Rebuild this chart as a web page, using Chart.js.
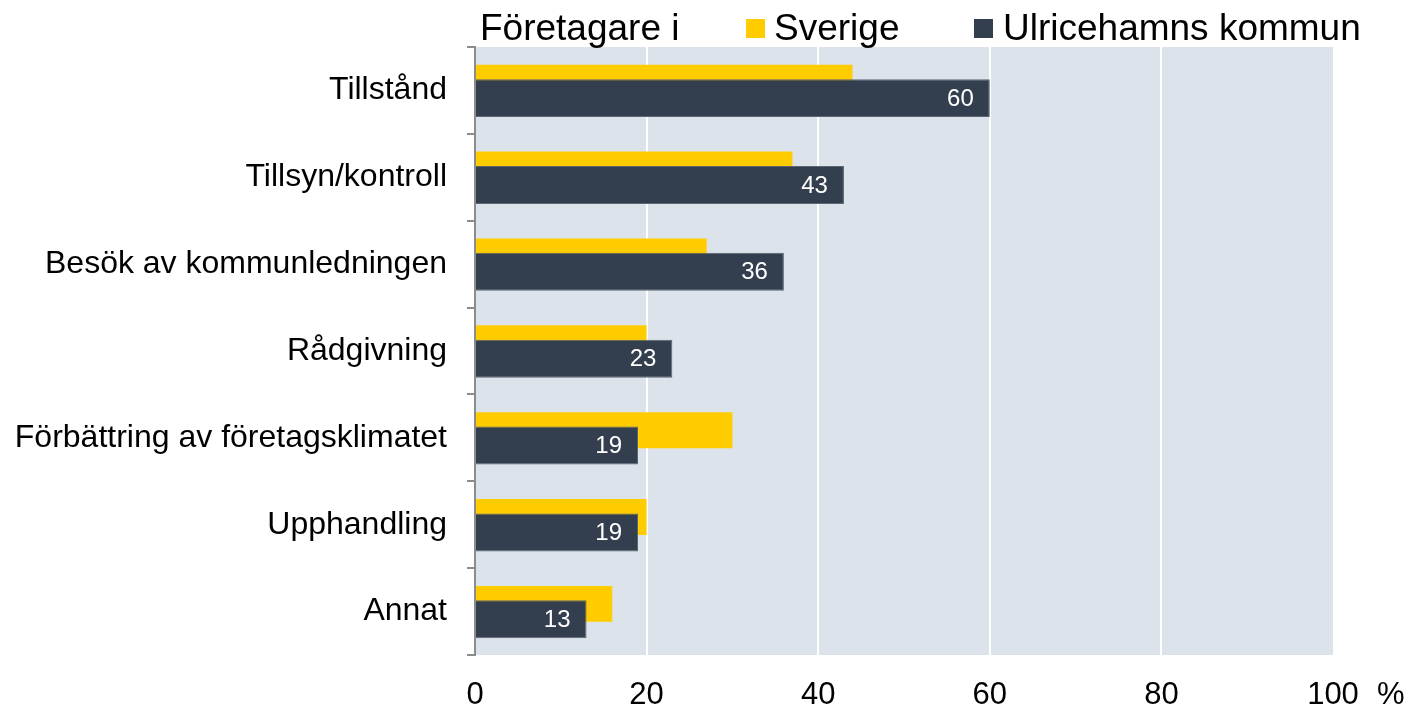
<!DOCTYPE html>
<html>
<head>
<meta charset="utf-8">
<script src="https://cdn.jsdelivr.net/npm/chart.js@4"></script>
<style>
  body { margin: 0; background: #fff; }
  .wrap { width: 1410px; height: 707px; }
</style>
</head>
<body>
<div class="wrap"><canvas id="chart"></canvas></div>
<script>
const categories = [
  'Tillstånd',
  'Tillsyn/kontroll',
  'Besök av kommunledningen',
  'Rådgivning',
  'Förbättring av företagsklimatet',
  'Upphandling',
  'Annat'
];
const sverige = [44, 37, 27, 20, 30, 20, 16];
const ulricehamn = [60, 43, 36, 23, 19, 19, 13];
const legendPrefix = 'Företagare i';
const seriesNames = ['Sverige', 'Ulricehamns kommun'];
const unitLabel = '%';

const FONT = '"Liberation Sans", Arial, sans-serif';
const YELLOW = '#ffcc00';
const DARK = '#333f4e';
const PLOT_BG = '#dce3ea';

// plot background
const plotBg = {
  id: 'plotBg',
  beforeDraw(chart) {
    const { ctx, chartArea: a } = chart;
    ctx.save();
    ctx.fillStyle = PLOT_BG;
    ctx.fillRect(a.left, a.top, a.right - a.left, a.bottom - a.top);
    ctx.restore();
  }
};

// dark bars go on top of the yellow ones, so draw them last
const frontBars = {
  id: 'frontBars',
  beforeDatasetDraw(chart, args) {
    if (args.index === 1 && !this.drawingFront) return false;
  },
  afterDatasetsDraw(chart) {
    this.drawingFront = true;
    const meta = chart.getDatasetMeta(1);
    const a = chart.chartArea;
    const ctx = chart.ctx;
    ctx.save();
    ctx.beginPath();
    ctx.rect(a.left, a.top - 2, a.right - a.left + 2, a.bottom - a.top + 4);
    ctx.clip();
    meta.controller.draw();
    ctx.restore();
    this.drawingFront = false;

    // value labels inside the dark bars
    ctx.save();
    ctx.font = '24px ' + FONT;
    ctx.fillStyle = '#fff';
    ctx.textAlign = 'right';
    ctx.textBaseline = 'middle';
    meta.data.forEach((bar, i) => {
      const { x, y } = bar.getProps(['x', 'y'], true);
      ctx.fillText(String(ulricehamn[i]), x - 16, y + 1);
    });
    ctx.restore();
  }
};

// legend row + unit label
const extras = {
  id: 'extras',
  afterDraw(chart) {
    const ctx = chart.ctx;
    ctx.save();
    ctx.font = '37px ' + FONT;
    ctx.fillStyle = '#000';
    ctx.textBaseline = 'alphabetic';
    ctx.textAlign = 'left';
    ctx.fillText(legendPrefix, 480, 40);
    ctx.fillStyle = YELLOW;
    ctx.fillRect(746, 19, 19, 19);
    ctx.fillStyle = '#000';
    ctx.fillText(seriesNames[0], 774, 40);
    ctx.fillStyle = DARK;
    ctx.fillRect(974, 19, 19, 19);
    ctx.fillStyle = '#000';
    ctx.fillText(seriesNames[1], 1003, 40);

    ctx.font = '31px ' + FONT;
    ctx.fillText(unitLabel, 1377, 704);
    ctx.restore();
  }
};

new Chart(document.getElementById('chart'), {
  type: 'bar',
  data: {
    labels: categories,
    datasets: [
      {
        label: seriesNames[0],
        data: sverige,
        backgroundColor: YELLOW,
        borderWidth: 0,
        categoryPercentage: 0.354,
        barPercentage: 2.34
      },
      {
        label: seriesNames[1],
        data: ulricehamn,
        backgroundColor: DARK,
        borderColor: '#5b6674',
        borderWidth: 1,
        categoryPercentage: 0.354,
        barPercentage: 2.47
      }
    ]
  },
  options: {
    indexAxis: 'y',
    responsive: true,
    maintainAspectRatio: false,
    animation: false,
    layout: { padding: { top: 47, right: 77, left: 0, bottom: 0 } },
    plugins: {
      legend: { display: false },
      tooltip: { enabled: false }
    },
    scales: {
      x: {
        min: 0,
        max: 100,
        ticks: {
          stepSize: 20,
          padding: 22,
          color: '#000',
          font: { family: FONT, size: 31 }
        },
        grid: {
          color: c => (c.tick && (c.tick.value === 0 || c.tick.value === 100)) ? 'rgba(0,0,0,0)' : '#ffffff',
          lineWidth: 2,
          drawTicks: false
        },
        border: { display: false },
        afterFit: s => { s.height = 52; }
      },
      y: {
        ticks: {
          padding: 20,
          color: '#000',
          font: { family: FONT, size: 32 }
        },
        grid: {
          offset: true,
          drawOnChartArea: false,
          color: '#8c8c8c',
          lineWidth: 2,
          tickLength: 8
        },
        border: { color: '#8c8c8c', width: 2 },
        afterFit: s => { s.width = 475; }
      }
    }
  },
  plugins: [plotBg, frontBars, extras]
});
</script>
</body>
</html>
